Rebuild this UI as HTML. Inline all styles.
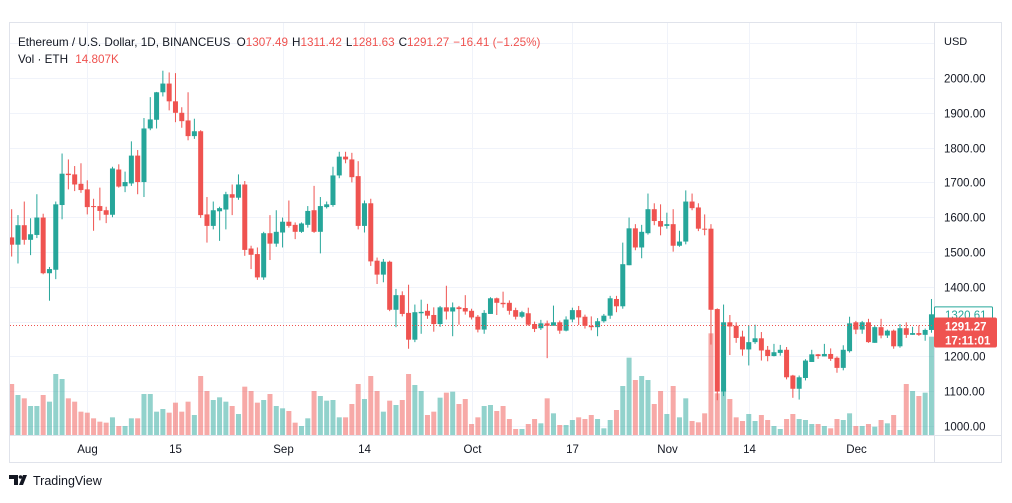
<!DOCTYPE html>
<html><head><meta charset="utf-8"><style>
body{margin:0;background:#fff;font-family:"Liberation Sans",sans-serif;}
svg text{font-family:"Liberation Sans",sans-serif;}
</style></head><body>
<svg id="chart" width="1012" height="498" viewBox="0 0 1012 498">
<defs><clipPath id="plotclip"><rect x="10" y="23" width="924" height="412"/></clipPath></defs>
<rect x="9.5" y="22.5" width="992" height="440" fill="#fff" stroke="#e0e3eb"/>
<g id="grid"></g>
<g id="vols" clip-path="url(#plotclip)"></g>
<g id="candles" clip-path="url(#plotclip)"></g>
<line x1="934.5" y1="22" x2="934.5" y2="462" stroke="#e0e3eb"/>
<line x1="10" y1="435.5" x2="1001" y2="435.5" stroke="#e0e3eb"/>
<g id="yaxis"></g>
<g id="xaxis"></g>
<text x="944" y="45" font-size="11" fill="#131722">USD</text>
<text x="18" y="46" font-size="11.7" fill="#131722">Ethereum / U.S. Dollar, 1D, BINANCEUS <tspan dx="3">O</tspan><tspan fill="#ef5350">1307.49</tspan><tspan dx="4">H</tspan><tspan fill="#ef5350">1311.42</tspan><tspan dx="4">L</tspan><tspan fill="#ef5350">1281.63</tspan><tspan dx="4">C</tspan><tspan fill="#ef5350">1291.27</tspan><tspan dx="4" fill="#ef5350">−16.41 (−1.25%)</tspan></text>
<text x="18" y="63" font-size="11.7" fill="#131722">Vol · ETH <tspan dx="4" fill="#ef5350">14.807K</tspan></text>
<g><path d="M9 475h9v10h-4v-6h-5z M19 485l4-10h4l-4 10z" fill="#131722"/><circle cx="20.5" cy="477" r="1.8" fill="#131722"/><text x="33" y="485" font-size="12.5" fill="#131722">TradingView</text></g>
</svg>
<script>
const categories=[];for(let i=0;i<147;i++){categories.push(i);}
const opens=[1542,1521,1577,1535,1549,1599,1439,1449,1635,1725,1723,1696,1680,1632,1632,1620,1607,1737,1689,1697,1777,1701,1855,1880,1959,1984,1933,1900,1878,1833,1847,1608,1575,1617,1622,1666,1656,1694,1510,1494,1427,1554,1524,1556,1587,1578,1558,1578,1620,1558,1629,1635,1720,1774,1766,1718,1575,1640,1475,1435,1472,1334,1376,1325,1248,1324,1331,1319,1293,1341,1329,1341,1339,1331,1314,1277,1322,1367,1354,1354,1333,1314,1324,1293,1281,1295,1288,1298,1274,1306,1333,1314,1288,1284,1301,1317,1365,1344,1462,1568,1513,1554,1623,1589,1575,1580,1518,1530,1645,1628,1567,1567,1336,1099,1298,1288,1257,1220,1241,1252,1219,1201,1210,1219,1145,1107,1138,1184,1206,1200,1207,1196,1167,1215,1298,1277,1298,1239,1284,1260,1274,1229,1281,1262,1267,1262,1276];
const closes=[1521,1577,1535,1551,1599,1439,1451,1637,1725,1721,1694,1678,1629,1629,1618,1607,1740,1688,1701,1777,1701,1855,1881,1959,1984,1933,1900,1876,1833,1847,1606,1575,1620,1626,1666,1656,1694,1506,1492,1427,1554,1524,1558,1587,1575,1558,1582,1618,1558,1632,1637,1720,1774,1766,1715,1575,1640,1473,1435,1472,1334,1376,1322,1248,1327,1328,1317,1293,1341,1329,1341,1336,1329,1312,1277,1325,1367,1354,1350,1331,1314,1327,1291,1279,1295,1288,1298,1274,1306,1333,1312,1288,1284,1301,1317,1367,1344,1465,1568,1513,1558,1623,1589,1573,1580,1518,1530,1645,1626,1567,1565,1334,1099,1298,1286,1253,1220,1241,1252,1217,1201,1212,1219,1140,1107,1140,1188,1206,1201,1207,1193,1167,1219,1295,1277,1298,1241,1284,1260,1274,1229,1281,1262,1267,1262,1276,1321];
const highs=[1623,1606,1645,1597,1666,1610,1457,1645,1783,1766,1747,1755,1706,1653,1685,1630,1745,1752,1731,1818,1793,1885,1945,1960,2021,2016,2014,1916,1959,1883,1850,1658,1645,1630,1673,1694,1723,1704,1518,1513,1558,1606,1620,1599,1648,1585,1585,1632,1690,1658,1645,1745,1788,1788,1785,1761,1648,1653,1484,1480,1475,1394,1387,1406,1349,1363,1351,1341,1345,1403,1355,1345,1376,1337,1319,1333,1370,1369,1386,1361,1340,1331,1340,1300,1305,1303,1346,1303,1315,1340,1345,1320,1315,1310,1322,1374,1374,1527,1599,1580,1578,1668,1640,1637,1613,1623,1561,1677,1668,1640,1608,1580,1338,1349,1319,1298,1274,1289,1291,1270,1230,1236,1233,1227,1147,1145,1192,1219,1207,1236,1223,1200,1232,1314,1302,1302,1308,1289,1308,1277,1277,1293,1298,1285,1289,1280,1365];
const lows=[1487,1467,1521,1491,1540,1436,1360,1422,1594,1680,1675,1670,1608,1561,1591,1583,1600,1685,1672,1690,1666,1658,1850,1855,1947,1907,1873,1857,1821,1825,1598,1527,1565,1532,1565,1606,1650,1489,1451,1420,1420,1477,1515,1513,1570,1537,1555,1570,1555,1496,1625,1630,1712,1755,1700,1565,1556,1460,1408,1413,1330,1284,1315,1222,1241,1265,1308,1271,1285,1306,1258,1291,1320,1306,1269,1265,1322,1319,1340,1320,1306,1310,1288,1270,1276,1195,1288,1265,1272,1298,1290,1280,1275,1258,1297,1308,1327,1337,1462,1505,1482,1550,1577,1548,1567,1501,1515,1522,1620,1560,1548,1234,1074,1086,1204,1239,1202,1174,1236,1188,1186,1200,1202,1134,1081,1076,1131,1184,1193,1200,1187,1153,1160,1211,1264,1265,1239,1239,1252,1253,1222,1225,1253,1262,1259,1245,1268];
const volumes=[153,120,110,87,87,120,100,183,168,110,100,70,67,50,40,37,53,27,27,50,50,123,123,70,78,67,97,70,100,60,177,132,105,113,100,87,63,145,132,97,105,123,87,80,72,37,27,50,132,117,103,105,53,53,93,153,108,177,132,70,103,90,105,183,150,132,60,70,112,127,130,93,108,33,53,87,90,72,87,48,18,18,33,48,35,110,65,30,30,45,53,48,60,48,20,45,75,147,232,165,177,165,93,132,63,147,53,110,42,38,65,305,125,140,108,53,42,63,42,60,45,27,18,48,63,48,45,33,33,27,20,48,45,65,27,27,33,25,45,35,60,15,153,132,117,127,295,255];
const priceTicks=[1000,1100,1200,1300,1400,1500,1600,1700,1800,1900,2000,2100];
const priceTickLabels=["1000.00","1100.00","1200.00",null,"1400.00","1500.00","1600.00","1700.00","1800.00","1900.00","2000.00",null];
const timeTickIdx=[12,26,43,56,73,89,104,117,134];
const timeTickLabels=["Aug","15","Sep","14","Oct","17","Nov","14","Dec"];
const lastClose=1291.27, prevMark=1320.61;

const NS="http://www.w3.org/2000/svg";
function xOf(i){return 11.67+i*6.3;}
function yOf(p){return 426-(p-1000)*0.348;}
function vH(v){return v/3;}
function mk(tag,attrs,parent){const e=document.createElementNS(NS,tag);for(const k in attrs)e.setAttribute(k,attrs[k]);parent.appendChild(e);return e;}
const grid=document.getElementById('grid'),ya=document.getElementById('yaxis'),xa=document.getElementById('xaxis');
priceTicks.forEach((p,k)=>{
  const y=Math.round(yOf(p))+0.5;
  const l=mk('line',{x1:10,x2:934,y1:y,y2:y,stroke:'#f0f3fa'},grid);
  
  
  if(priceTickLabels[k]){const t=mk('text',{x:944,y:y+4,'font-size':11.5,fill:'#131722'},ya);t.textContent=priceTickLabels[k];
  
  }
});
timeTickIdx.forEach((i,k)=>{
  const x=Math.round(xOf(i))+0.5;
  const l=mk('line',{x1:x,x2:x,y1:23,y2:435,stroke:'#f0f3fa'},grid);
  
  
  const t=mk('text',{x:x,y:453,'font-size':11.5,fill:'#131722','text-anchor':'middle'},xa);t.textContent=timeTickLabels[k];
  
  
});
const vg=document.getElementById('vols'),cg=document.getElementById('candles');
categories.forEach(i=>{
  const up=closes[i]>=opens[i];const x=xOf(i);
  const vb=mk('rect',{x:x-2.5,y:435-vH(volumes[i]),width:5,height:vH(volumes[i]),fill:up?'rgba(38,166,154,0.5)':'rgba(239,83,80,0.5)'},vg);
  
  
});
categories.forEach(i=>{
  const up=closes[i]>=opens[i];const x=xOf(i);const c=up?'#26a69a':'#ef5350';
  const w=mk('line',{x1:x,x2:x,y1:yOf(highs[i]),y2:yOf(lows[i]),stroke:c,'stroke-width':1},cg);
  
  
  const top=yOf(Math.max(opens[i],closes[i])),bot=yOf(Math.min(opens[i],closes[i]));
  const b=mk('rect',{x:x-2.5,y:top,width:5,height:Math.max(1,bot-top),fill:c},cg);
  
  
});
const svg=document.getElementById('chart');
const py=Math.round(yOf(lastClose))+0.5;
const pl=mk('line',{x1:10,x2:934,y1:py,y2:py,stroke:'#ef5350','stroke-dasharray':'1 2'},svg);


const my=yOf(prevMark);
const mb=mk('rect',{x:934.5,y:my-7.5,width:58,height:16,fill:'#fff',stroke:'#26a69a',rx:1},svg);


const mt=mk('text',{x:945,y:my+4.5,'font-size':11.5,fill:'#26a69a'},svg);mt.textContent=prevMark.toFixed(2);


const lb=mk('rect',{x:934,y:py-8,width:63,height:30,fill:'#ef5350',rx:2},svg);


const lt=mk('text',{x:945,y:py+5,'font-size':11.5,'font-weight':'bold',fill:'#fff'},svg);lt.textContent=lastClose.toFixed(2);


const ct=mk('text',{x:945,y:py+19,'font-size':11.5,'font-weight':'bold',fill:'#fff'},svg);ct.textContent='17:11:01';


</script>
</body></html>
